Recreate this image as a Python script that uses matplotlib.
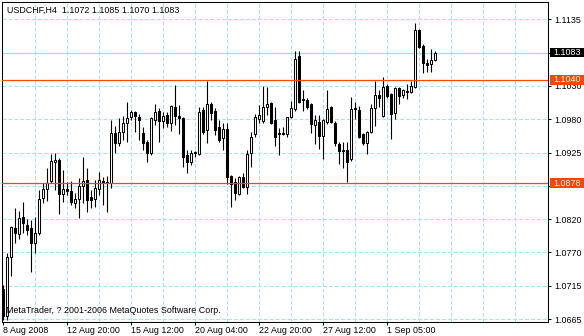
import matplotlib.pyplot as plt
from matplotlib.patches import Rectangle
from matplotlib.transforms import blended_transform_factory
import numpy as np

# USDCHF H4 bars
opens = [1.0712, 1.0670, 1.0762, 1.0808, 1.0798, 1.0825, 1.0813, 1.0808, 1.0784, 1.0800,
         1.0855, 1.0869, 1.0882, 1.0911, 1.0915, 1.0861, 1.0869, 1.0866, 1.0847, 1.0853,
         1.0874, 1.0883, 1.0856, 1.0853, 1.0869, 1.0882, 1.0880, 1.0878, 1.0957, 1.0941,
         1.0958, 1.0972, 1.0982, 1.0990, 1.0982, 1.0957, 1.0943, 1.0925, 1.0977, 1.0991,
         1.0976, 1.0985, 1.0972, 1.0998, 1.0983, 1.0980, 1.0922, 1.0911, 1.0927, 1.0924,
         1.0993, 1.0962, 1.1002, 1.0991, 1.0966, 1.0949, 1.0963, 1.0889, 1.0880, 1.0861,
         1.0888, 1.0872, 1.0925, 1.0955, 1.0979, 1.0976, 1.0998, 1.1004, 1.0977, 1.0957,
         1.0957, 1.0955, 1.0982, 1.0994, 1.1078, 1.1010, 1.1009, 1.1002, 1.0969, 1.0974,
         1.0952, 1.0974, 1.0998, 1.0972, 1.0940, 1.0930, 1.0930, 1.0916, 1.0996, 1.0993,
         1.0955, 1.0941, 1.0958, 1.0996, 1.1016, 1.0983, 1.1031, 1.1018, 1.0988, 1.1027,
         1.1016, 1.1023, 1.1021, 1.1029, 1.1118, 1.1093, 1.1067, 1.1065, 1.1072]
highs = [1.0718, 1.0769, 1.0811, 1.0839, 1.0835, 1.0849, 1.0822, 1.0820, 1.0825, 1.0867,
         1.0878, 1.0902, 1.0924, 1.0925, 1.0918, 1.0899, 1.0880, 1.0882, 1.0863, 1.0886,
         1.0919, 1.0902, 1.0867, 1.0883, 1.0896, 1.0888, 1.0889, 1.0977, 1.0968, 1.0980,
         1.0983, 1.1005, 1.0993, 1.0991, 1.0987, 1.0966, 1.0946, 1.0982, 1.1002, 1.0996,
         1.0990, 1.0990, 1.1001, 1.1032, 1.1001, 1.0982, 1.0930, 1.0930, 1.0929, 1.0998,
         1.0998, 1.1038, 1.1005, 1.0996, 1.0977, 1.0972, 1.0972, 1.0891, 1.0886, 1.0889,
         1.0894, 1.0930, 1.0958, 1.0987, 1.1001, 1.1031, 1.1029, 1.1005, 1.0998, 1.0965,
         1.0966, 1.0982, 1.1007, 1.1085, 1.1085, 1.1024, 1.1012, 1.1004, 1.0985, 1.0985,
         1.0979, 1.1024, 1.0999, 1.0976, 1.0943, 1.0943, 1.0943, 1.1013, 1.1005, 1.0999,
         1.0957, 1.0960, 1.1002, 1.1038, 1.1024, 1.1045, 1.1034, 1.1020, 1.1029, 1.1029,
         1.1026, 1.1034, 1.1038, 1.1129, 1.1120, 1.1096, 1.1073, 1.1089, 1.1085]
lows = [1.0664, 1.0664, 1.0733, 1.0784, 1.0791, 1.0800, 1.0797, 1.0739, 1.0769, 1.0797,
        1.0847, 1.0850, 1.0878, 1.0867, 1.0830, 1.0849, 1.0860, 1.0844, 1.0839, 1.0824,
        1.0847, 1.0833, 1.0839, 1.0841, 1.0860, 1.0844, 1.0833, 1.0871, 1.0925, 1.0936,
        1.0946, 1.0943, 1.0977, 1.0958, 1.0946, 1.0930, 1.0911, 1.0922, 1.0969, 1.0943,
        1.0965, 1.0966, 1.0960, 1.0969, 1.0955, 1.0904, 1.0894, 1.0907, 1.0919, 1.0922,
        1.0955, 1.0941, 1.0977, 1.0954, 1.0943, 1.0930, 1.0877, 1.0841, 1.0852, 1.0860,
        1.0871, 1.0861, 1.0904, 1.0951, 1.0972, 1.0972, 1.0985, 1.0971, 1.0936, 1.0922,
        1.0954, 1.0951, 1.0980, 1.0991, 1.1004, 1.0991, 1.0994, 1.0957, 1.0940, 1.0932,
        1.0916, 1.0971, 1.0972, 1.0936, 1.0908, 1.0902, 1.0880, 1.0913, 1.0979, 1.0949,
        1.0938, 1.0924, 1.0957, 1.0968, 1.0998, 1.0982, 1.1012, 1.0947, 1.0979, 1.1002,
        1.1012, 1.1010, 1.1020, 1.1027, 1.1090, 1.1051, 1.1052, 1.1052, 1.1070]
closes = [1.0670, 1.0762, 1.0809, 1.0800, 1.0824, 1.0816, 1.0805, 1.0784, 1.0800, 1.0853,
          1.0869, 1.0878, 1.0913, 1.0915, 1.0861, 1.0869, 1.0866, 1.0849, 1.0853, 1.0874,
          1.0882, 1.0852, 1.0852, 1.0871, 1.0883, 1.0878, 1.0878, 1.0957, 1.0941, 1.0958,
          1.0972, 1.0980, 1.0990, 1.0983, 1.0977, 1.0941, 1.0925, 1.0980, 1.0990, 1.0976,
          1.0983, 1.0972, 1.0999, 1.0983, 1.0980, 1.0919, 1.0911, 1.0925, 1.0925, 1.0990,
          1.0958, 1.1002, 1.0988, 1.0962, 1.0946, 1.0963, 1.0888, 1.0877, 1.0863, 1.0888,
          1.0872, 1.0924, 1.0951, 1.0982, 1.0985, 1.0998, 1.1002, 1.0972, 1.0951, 1.0955,
          1.0955, 1.0982, 1.0996, 1.1073, 1.1005, 1.1009, 1.0998, 1.0971, 1.0977, 1.0952,
          1.0977, 1.0994, 1.0974, 1.0941, 1.0929, 1.0929, 1.0911, 1.0994, 1.0994, 1.0951,
          1.0941, 1.0958, 1.0996, 1.1016, 1.1012, 1.1029, 1.1015, 1.0987, 1.1027, 1.1015,
          1.1024, 1.1021, 1.1031, 1.1118, 1.1092, 1.1067, 1.1063, 1.1072, 1.1083]

# time axis labels (every 16 bars)
date_labels = ["8 Aug 2008", "12 Aug 20:00", "15 Aug 12:00", "20 Aug 04:00",
               "22 Aug 20:00", "27 Aug 12:00", "1 Sep 05:00"]
price_labels = ["1.1135", "", "1.1030", "1.0980", "1.0925", "",
                "1.0820", "1.0770", "1.0715", "1.0665"]
level_lines = [1.1040, 1.0878]
bid = 1.1083
header = "USDCHF,H4  1.1072 1.1085 1.1070 1.1083"

grid_col = "#A8E4E4"
red = "#FF4500"
fnt = dict(family=["Liberation Sans", "DejaVu Sans"], size=6.4)

fig = plt.figure(figsize=(5.84, 3.36), dpi=100)
ax = fig.add_axes([2/584, 14/336, 546/584, 320/336])

x = np.arange(len(opens))
o = np.array(opens); c = np.array(closes)
ax.vlines(x, lows, highs, color="black", lw=0.8, zorder=3)
bottom = np.minimum(o, c)
height = np.maximum(np.abs(c - o), 0.00006)
face = np.where(c > o, "white", "black")
ax.bar(x, height, bottom=bottom, width=0.5, color=face, edgecolor="black",
       lw=0.75, zorder=4)

ax.set_xlim(-0.25, 136.25)
ax.set_ylim(1.06604, 1.11622)

# grid
yt = np.linspace(1.1135, 1.0665, 10)
for v in yt:
    ax.axhline(v, color=grid_col, lw=0.75, ls=(0, (3.8, 1.9)), zorder=1)
for g in range(8, 136, 8):
    ax.axvline(g, color=grid_col, lw=0.75, ls=(0, (3.8, 1.9)), zorder=1)

for lv in level_lines:
    ax.axhline(lv, color=red, lw=0.9, zorder=5)
ax.axhline(bid, color="#A6DCE4", lw=0.9, zorder=2)

ax.yaxis.tick_right()
ax.set_yticks(yt, price_labels, **fnt)
ax.tick_params(axis="y", length=2.5, width=0.75, pad=2)
ax.set_xticks(np.arange(0, 97, 16), date_labels, **fnt)
ax.tick_params(axis="x", length=2.5, width=0.75, pad=0.5)
for lbl in ax.get_xticklabels():
    lbl.set_ha("left")
for s in ax.spines.values():
    s.set_linewidth(0.75)

# price tags on right axis
tr = blended_transform_factory(ax.transAxes, ax.transData)
h = 9.5 * 0.0001568
for val, col in [(bid, "black"), (level_lines[0], red), (level_lines[1], red)]:
    ax.add_patch(Rectangle((1.0 + 1.5/546, val - h/2), 36/546, h, transform=tr,
                           facecolor=col, edgecolor="none", clip_on=False, zorder=10))
    ax.text(1.0 + 5/546, val, "%.4f" % val, transform=tr, color="white",
            va="center", ha="left", zorder=11, **fnt)

ax.text(5/546, 0.975, header, transform=ax.transAxes, va="center", ha="left",
        zorder=12, **fnt)
ax.text(4/546, 0.037, "MetaTrader, ? 2001-2006 MetaQuotes Software Corp.",
        transform=ax.transAxes, va="center", ha="left", zorder=12, **fnt)

fig.savefig("out.png", dpi=100)
